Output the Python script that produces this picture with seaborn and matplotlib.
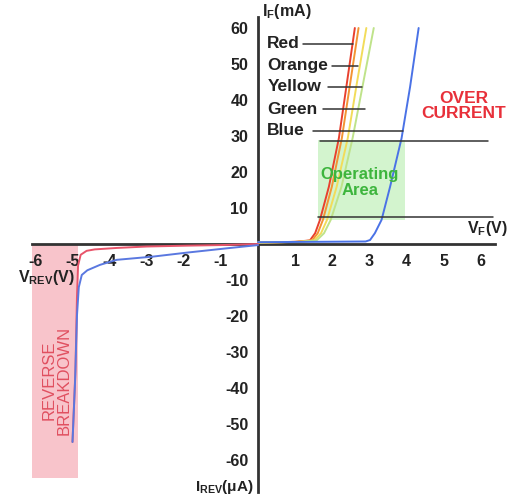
import numpy as np
import pandas as pd
import seaborn as sns
import matplotlib.pyplot as plt
from matplotlib.patches import Rectangle

sns.set_style('white')
plt.rcParams['font.family'] = ['Liberation Sans', 'DejaVu Sans']
plt.rcParams['mathtext.fontset'] = 'custom'
plt.rcParams['mathtext.rm'] = 'Liberation Sans:bold'
plt.rcParams['mathtext.bf'] = 'Liberation Sans:bold'

# forward curves (V, mA)
red_v = [0.0, 1.0, 1.40, 1.54, 1.67, 1.91, 2.18, 2.40, 2.61]
red_i = [0.4, 0.6, 1.0, 3.0, 6.7, 15.9, 29.4, 45.0, 60.0]
orange_v = [0.0, 1.05, 1.46, 1.61, 1.75, 1.99, 2.26, 2.49, 2.71]
orange_i = [0.4, 0.6, 1.0, 3.0, 6.7, 15.9, 29.4, 45.0, 60.0]
yellow_v = [0.0, 1.1, 1.52, 1.70, 1.86, 2.12, 2.42, 2.67, 2.92]
yellow_i = [0.4, 0.6, 1.0, 3.0, 6.7, 15.9, 29.4, 45.0, 60.0]
green_v = [0.0, 1.15, 1.58, 1.78, 1.96, 2.25, 2.55, 2.84, 3.12]
green_i = [0.4, 0.6, 1.0, 3.0, 6.7, 15.9, 29.4, 45.0, 60.0]
blue_v = [0.0, 1.5, 2.9, 3.02, 3.15, 3.33, 3.56, 3.87, 4.10, 4.33]
blue_i = [0.5, 0.6, 0.7, 1.1, 3.0, 6.7, 15.9, 29.4, 43.7, 60.0]

# reverse curves (V, uA)
red_rev_v = [0.0, -1.0, -1.92, -3.0, -3.81, -4.4, -4.62, -4.78, -4.85, -4.88, -4.92, -5.0]
red_rev_i = [0.0, -0.3, -0.46, -0.7, -1.1, -1.5, -1.9, -3.0, -6.0, -15.0, -35.0, -55.0]
blue_rev_v = [0.0, -0.84, -1.92, -2.83, -3.81, -4.26, -4.6, -4.75, -4.83, -4.88, -4.93, -5.0]
blue_rev_i = [-0.3, -1.2, -2.4, -3.5, -4.4, -5.8, -7.3, -8.6, -12.0, -20.0, -38.0, -55.0]

# colour labels: name, y, line start, line end
label_names = ['Red', 'Orange', 'Yellow', 'Green', 'Blue']
label_y = [55.6, 49.5, 43.7, 37.5, 31.4]
label_x0 = [1.21, 1.99, 1.89, 1.75, 1.48]
label_x1 = [2.56, 2.70, 2.80, 2.88, 3.91]

xticks = [-6, -5, -4, -3, -2, -1, 1, 2, 3, 4, 5, 6]
yticks = [-60, -50, -40, -30, -20, -10, 10, 20, 30, 40, 50, 60]

curves = [
    (red_v, red_i, '#e8402e'),
    (orange_v, orange_i, '#f39433'),
    (yellow_v, yellow_i, '#f2dc5a'),
    (green_v, green_i, '#bfe38a'),
    (blue_v, blue_i, '#4a72e6'),
    (red_rev_v, red_rev_i, '#e8546a'),
    (blue_rev_v, blue_rev_i, '#5a78e0'),
]

fig = plt.figure(figsize=(5.14, 4.98), dpi=100)
ax = fig.add_axes([0, 0, 1, 1])
ax.set_xlim(-6.954, 6.900)
ax.set_ylim(-70.56, 67.78)

# shaded areas
ax.add_patch(Rectangle((-6.09, -65), 1.24, 65, color='#f8c4cb', lw=0, zorder=0))
ax.add_patch(Rectangle((1.62, 6.7), 2.34, 22.1, color='#c9f2c2', lw=0, alpha=0.8, zorder=0))

for v, i, c in curves:
    df = pd.DataFrame({'v': v, 'i': i})
    sns.lineplot(data=df, x='v', y='i', ax=ax, color=c, lw=1.4, sort=False, estimator=None)

# operating area limits
ax.plot([1.67, 6.2], [28.5, 28.5], color='#333333', lw=1.1)
ax.plot([1.62, 6.33], [7.4, 7.4], color='#333333', lw=1.1)

for name, y, x0, x1 in zip(label_names, label_y, label_x0, label_x1):
    ax.text(0.25, y, name, fontsize=12.5, fontweight='bold', color='#222222', va='center', ha='left')
    ax.plot([x0, x1], [y, y], color='#333333', lw=1.1)

ax.text(5.55, 38.3, 'OVER\nCURRENT', color='#e8303a', fontsize=12.5, fontweight='bold',
        ha='center', va='center', linespacing=1.0)
ax.text(2.75, 17.0, 'Operating\nArea', color='#3db53d', fontsize=12, fontweight='bold',
        ha='center', va='center', linespacing=1.1)
ax.text(-5.44, -37.8, 'REVERSE\nBREAKDOWN', color='#e05060', fontsize=12, rotation=90,
        ha='center', va='center', linespacing=1.0)

ax.text(0.1, 64.6, r'I$_\mathregular{F}$(mA)', fontsize=11.5, fontweight='bold', color='#222222',
        ha='left', va='center')
ax.text(6.74, 4.2, r'V$_\mathregular{F}$(V)', fontsize=11.5, fontweight='bold', color='#222222',
        ha='right', va='center')
ax.text(-5.69, -9.2, r'V$_\mathregular{REV}$(V)', fontsize=11.5, fontweight='bold', color='#222222',
        ha='center', va='center')
ax.text(-0.13, -67.6, r'I$_\mathregular{REV}$($\mathregular{\mu}$A)', fontsize=11, fontweight='bold',
        color='#222222', ha='right', va='center')

# centred axes
for s in ['top', 'right']:
    ax.spines[s].set_visible(False)
ax.spines['left'].set_position(('data', 0))
ax.spines['bottom'].set_position(('data', 0))
ax.spines['left'].set_bounds(-69, 63)
ax.spines['bottom'].set_bounds(-6.1, 6.4)
for s in ['left', 'bottom']:
    ax.spines[s].set_linewidth(2)
    ax.spines[s].set_color('#333333')
    ax.spines[s].set_zorder(1)

ax.set_xticks(xticks)
ax.set_yticks(yticks)
ax.set_xticklabels([str(t) for t in xticks])
ax.set_yticklabels([str(t) for t in yticks])
ax.tick_params(direction='out', length=5, width=1.5, color='#333333', labelsize=11.5,
               labelcolor='#222222', pad=2)
for lab in ax.get_xticklabels() + ax.get_yticklabels():
    lab.set_fontweight('bold')
ax.set_xlabel('')
ax.set_ylabel('')

fig.savefig('out.png', dpi=100, facecolor='white')
